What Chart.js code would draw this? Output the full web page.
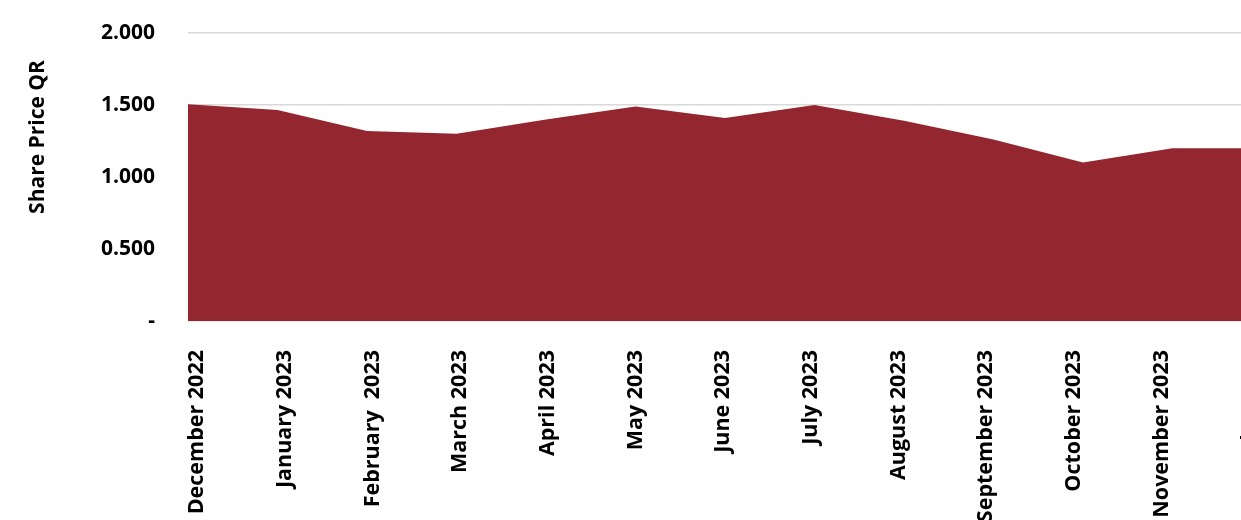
<!DOCTYPE html>
<html>
<head>
<meta charset="utf-8">
<script src="https://cdn.jsdelivr.net/npm/chart.js@4/dist/chart.umd.min.js"></script>
<style>
  html, body { margin: 0; padding: 0; background: #fff; overflow: hidden; }
  #wrap { width: 1314px; height: 520px; }
</style>
</head>
<body>
<div id="wrap"><canvas id="priceChart" width="1314" height="520"></canvas></div>
<script>
// share price by month (QR)
const months = [
  'December 2022', 'January 2023', 'February  2023', 'March 2023', 'April 2023',
  'May 2023', 'June 2023', 'July 2023', 'August 2023', 'September 2023',
  'October 2023', 'November 2023', 'December 2023'
];
const sharePrice = [1.505, 1.465, 1.32, 1.30, 1.40, 1.49, 1.41, 1.50, 1.39, 1.26, 1.10, 1.20, 1.20];
const yTicks = [0, 0.5, 1.0, 1.5, 2.0];
const yTitle = 'Share Price QR';

const FONT = "'Open Sans', 'DejaVu Sans', sans-serif";
const fill = '#93262e';

// y title sits above the middle of the plot in the original, so draw it by hand
const yTitlePlugin = {
  id: 'yTitle',
  afterDraw(chart) {
    const ctx = chart.ctx;
    ctx.save();
    ctx.translate(38, 137);
    ctx.rotate(-Math.PI / 2);
    ctx.font = 'bold 21px ' + FONT;
    ctx.fillStyle = '#000';
    ctx.textAlign = 'center';
    ctx.textBaseline = 'middle';
    ctx.fillText(yTitle, 0, 0);
    ctx.restore();
  }
};

new Chart(document.getElementById('priceChart'), {
  type: 'line',
  data: {
    labels: months,
    datasets: [{
      data: sharePrice,
      fill: 'origin',
      backgroundColor: fill,
      borderColor: fill,
      borderWidth: 0,
      pointRadius: 0,
      tension: 0
    }]
  },
  options: {
    responsive: false,
    animation: false,
    layout: { padding: { top: 33, left: 0, right: 52, bottom: 0 } },
    plugins: { legend: { display: false }, tooltip: { enabled: false } },
    scales: {
      // data axis, hidden
      x: { display: false, offset: false },
      // label axis: the month labels in the original sit on a slightly tighter pitch than the data
      xLabels: {
        type: 'linear',
        position: 'bottom',
        min: -0.103, max: 12.143,
        afterBuildTicks(axis) { axis.ticks = months.map((m, i) => ({ value: i })); },
        grid: { display: false, drawTicks: false },
        border: { display: false },
        ticks: {
          autoSkip: false,
          minRotation: 90, maxRotation: 90,
          padding: 29,
          color: '#000',
          font: { family: FONT, size: 21.5, weight: 'bold' },
          callback: v => months[v]
        },
        afterFit(axis) { axis.height = 199; axis.paddingLeft = 0; axis.paddingRight = 0; }
      },
      y: {
        min: 0, max: 2,
        afterBuildTicks(axis) { axis.ticks = yTicks.map(v => ({ value: v })); },
        grid: { color: '#d9d9d9', lineWidth: 1.5, drawTicks: false },
        border: { display: false },
        ticks: {
          padding: 33,
          color: '#000',
          font: { family: FONT, size: 21, weight: 'bold' },
          callback: v => v === 0 ? '-' : v.toFixed(3)
        },
        afterFit(axis) { axis.width = 188; axis.paddingTop = 0; axis.paddingBottom = 0; }
      }
    }
  },
  plugins: [yTitlePlugin]
});
</script>
</body>
</html>
